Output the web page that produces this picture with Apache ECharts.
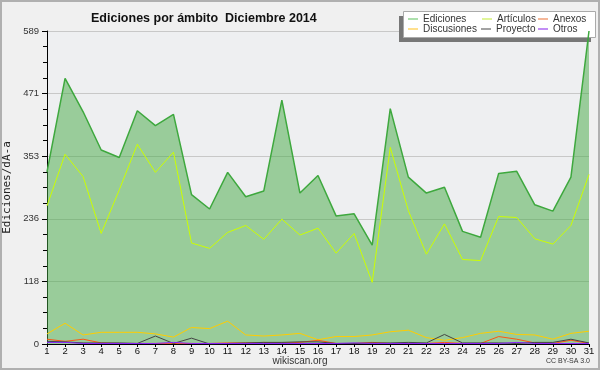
<!DOCTYPE html>
<html>
<head>
<meta charset="utf-8">
<script src="https://cdn.jsdelivr.net/npm/echarts@6/dist/echarts.min.js"></script>
<style>
html,body{margin:0;padding:0;background:#f0f0f0;}
#c{width:600px;height:370px;}
</style>
</head>
<body>
<div id="c"></div>
<script>
const days = ['1','2','3','4','5','6','7','8','9','10','11','12','13','14','15','16','17','18','19','20','21','22','23','24','25','26','27','28','29','30','31'];
const ediciones = [324,500,437,365,351,439,411,432,281,254,323,277,288,459,284,317,241,245,186,443,314,284,295,212,201,321,325,262,250,314,589];
const articulos = [260,357,315,208,290,376,323,361,190,180,210,223,197,235,205,218,171,208,116,370,251,169,226,159,157,240,238,198,188,223,319];
const discusiones = [19,39,17,22,22,22,19,13,31,29,43,17,15,17,20,8,14,14,17,23,26,12,7,12,20,24,18,17,9,20,24];
const anexos = [9,5,9,2,1,1,1,1,1,1,2,2,3,2,3,7,1,1,3,1,1,1,3,1,1,14,9,2,1,7,1];
const proyecto = [5,4,2,2,2,1,15,1,11,0,1,2,3,3,4,4,1,1,2,2,3,2,18,2,2,2,1,3,3,9,2];
const otros = [3,3,1,1,1,1,1,3,1,1,1,1,1,1,1,1,1,2,1,1,1,1,1,1,1,1,3,1,1,1,1];
const yTicks = [0,118,236,353,471,589];

const chart = echarts.init(document.getElementById('c'), null, {renderer:'canvas'});
const legendFont = {fontFamily:'Liberation Sans', fontSize:10, color:'#333'};
function lg(name, color, left, top){
  return {show:true, data:[{name:name, itemStyle:{color:color}}], left:left, top:top, padding:0,
    icon:'rect', itemWidth:10, itemHeight:1.2, itemGap:0, textStyle:legendFont, z:10, selectedMode:false};
}
const yMax = yTicks[yTicks.length-1];
chart.setOption({
  backgroundColor:'#f0f0f0',
  animation:false,
  title:{text:'Ediciones por ámbito  Diciembre 2014', left:86, top:7,
    textStyle:{fontFamily:'Liberation Sans', fontSize:12.5, fontWeight:'bold', color:'#111'}},
  graphic:[
    {type:'rect', shape:{x:1,y:1,width:598,height:368}, style:{fill:'none', stroke:'#b0b0b0', lineWidth:2}, z:100},
    {type:'rect', shape:{x:399,y:16,width:192,height:26}, style:{fill:'#777'}, z:1},
    {type:'rect', shape:{x:403.5,y:11.5,width:192,height:26}, style:{fill:'#fff', stroke:'#aaa', lineWidth:1}, z:2},
    {type:'text', left:'center', top:356, style:{text:'wikiscan.org', font:'10px "Liberation Sans"', fill:'#333'}},
    {type:'text', right:10, top:358, style:{text:'CC BY-SA 3.0', font:'7px "Liberation Sans"', fill:'#333'}}
  ],
  legend:[
    lg('Ediciones','#77cc77',408,14),
    lg('Artículos','#ccee55',482,14),
    lg('Anexos','#ee8855',538,14),
    lg('Discusiones','#ffcc44',408,24),
    lg('Proyecto','#666666',481,24),
    lg('Otros','#9944ee',538,24)
  ],
  grid:{left:47, right:11, top:31, bottom:26, show:true, backgroundColor:'#eeeff1', borderWidth:0,
    outerBoundsMode:'none', containLabel:false},
  xAxis:{type:'category', data:days, boundaryGap:false,
    axisLine:{lineStyle:{color:'#000', width:1}},
    axisTick:{show:true, length:3, alignWithLabel:true, lineStyle:{color:'#000'}},
    axisLabel:{fontFamily:'Liberation Sans', fontSize:9.5, color:'#111', margin:2, interval:0},
    splitLine:{show:false}},
  yAxis:{type:'value', min:0, max:yMax, interval:yMax/5,
    name:'Ediciones/dÃ-a', nameLocation:'middle', nameRotate:90, nameGap:31,
    nameTextStyle:{fontFamily:'DejaVu Sans Mono', fontSize:11, color:'#222'},
    axisLine:{show:true, lineStyle:{color:'#000', width:1}},
    axisTick:{show:true, length:5, lineStyle:{color:'#000'}},
    minorTick:{show:true, splitNumber:4, length:4, lineStyle:{color:'#000'}},
    axisLabel:{fontFamily:'Liberation Sans', fontSize:9.5, color:'#333', margin:8,
      formatter:function(v){ return String(Math.round(v)); }},
    splitLine:{show:true, lineStyle:{color:'#c8c8c8', width:1}}},
  series:[
    {name:'Ediciones', type:'line', data:ediciones, symbol:'none', z:2,
      lineStyle:{color:'#3ea83e', width:1.5}, itemStyle:{color:'#3ea83e'},
      areaStyle:{color:'#44aa44', opacity:0.5}},
    {name:'Artículos', type:'line', data:articulos, symbol:'none', z:3,
      lineStyle:{color:'#ccff00', width:1}, itemStyle:{color:'#ccff00'}},
    {name:'Discusiones', type:'line', data:discusiones, symbol:'none', z:3,
      lineStyle:{color:'#ffcc00', width:1}, itemStyle:{color:'#ffcc00'}},
    {name:'Anexos', type:'line', data:anexos, symbol:'none', z:3,
      lineStyle:{color:'#ff5511', width:1}, itemStyle:{color:'#ff5511'}},
    {name:'Proyecto', type:'line', data:proyecto, symbol:'none', z:3,
      lineStyle:{color:'#444444', width:1}, itemStyle:{color:'#444444'}},
    {name:'Otros', type:'line', data:otros, symbol:'none', z:3,
      lineStyle:{color:'#8822ff', width:1}, itemStyle:{color:'#8822ff'}}
  ]
});
</script>
</body>
</html>
